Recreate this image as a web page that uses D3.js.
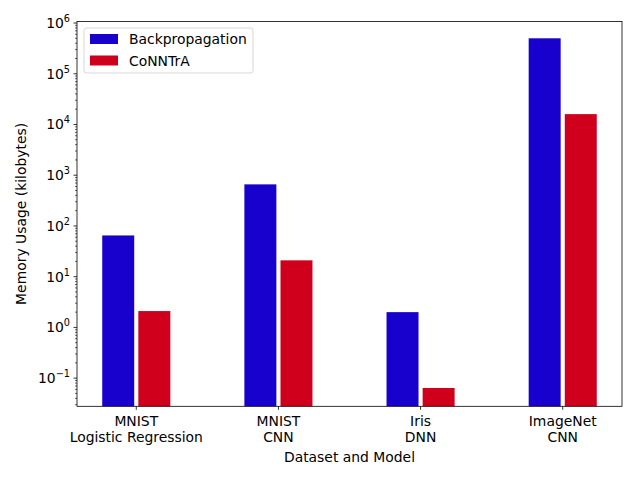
<!DOCTYPE html>
<html>
<head>
<meta charset="utf-8">
<script src="https://cdn.jsdelivr.net/npm/d3@7"></script>
<style>
  body { margin: 0; background: #fff; }
  text { font-family: "DejaVu Sans", sans-serif; }
</style>
</head>
<body>
<svg id="chart" width="640" height="480"></svg>
<script>
const categories = [['MNIST', 'Logistic Regression'], ['MNIST', 'CNN'], ['Iris', 'DNN'], ['ImageNet', 'CNN']];
const seriesNames = ['Backpropagation', 'CoNNTrA'];
const backprop = [65, 660, 2, 500000];
const conntra = [2.1, 21, 0.064, 16000];
const yTickExps = [-1, 0, 1, 2, 3, 4, 5, 6];
const colors = ['#1800cd', '#d0001c'];

const margin = {top: 21.5, left: 77, right: 18, bottom: 73.7};
const width = 640, height = 480;
const fontSize = 13.9;

const svg = d3.select('#chart');

const x = d3.scaleLinear().domain([-0.417, 3.417]).range([margin.left, width - margin.right]);
const y = d3.scaleLog().domain([Math.pow(10, -1.555), Math.pow(10, 6.03)]).range([height - margin.bottom, margin.top]);

const barWidth = 0.225, offset = 0.127;
const series = [backprop, conntra];

// bars
series.forEach((vals, s) => {
    svg.append('g')
        .selectAll('rect')
        .data(vals)
        .join('rect')
        .attr('x', (d, i) => x(i + (s === 0 ? -offset : offset) - barWidth / 2))
        .attr('width', x(barWidth) - x(0))
        .attr('y', d => y(d))
        .attr('height', d => y.range()[0] - y(d))
        .attr('fill', colors[s]);
});

// y axis: major and minor ticks
const yAxis = svg.append('g');
const minor = [];
for (let e = -2; e <= 6; e++) {
    for (let m = 2; m <= 9; m++) {
        const v = m * Math.pow(10, e);
        if (v >= y.domain()[0] && v <= y.domain()[1]) minor.push(v);
    }
}
yAxis.selectAll('line.minor')
    .data(minor)
    .join('line')
    .attr('x1', margin.left - 2).attr('x2', margin.left)
    .attr('y1', d => y(d)).attr('y2', d => y(d))
    .attr('stroke', '#000').attr('stroke-width', 0.6);
yAxis.selectAll('line.major')
    .data(yTickExps)
    .join('line')
    .attr('x1', margin.left - 3.5).attr('x2', margin.left)
    .attr('y1', d => y(Math.pow(10, d))).attr('y2', d => y(Math.pow(10, d)))
    .attr('stroke', '#000').attr('stroke-width', 0.8);
const yLab = yAxis.selectAll('text')
    .data(yTickExps)
    .join('text')
    .attr('x', margin.left - 7)
    .attr('y', d => y(Math.pow(10, d)) + 5)
    .attr('text-anchor', 'end')
    .attr('font-size', fontSize);
yLab.append('tspan').text('10');
yLab.append('tspan')
    .attr('dy', -6)
    .attr('font-size', fontSize * 0.7)
    .text(d => d < 0 ? '\u2212' + Math.abs(d) : d);

// x axis ticks and labels
const xAxis = svg.append('g');
xAxis.selectAll('line')
    .data(categories)
    .join('line')
    .attr('x1', (d, i) => x(i)).attr('x2', (d, i) => x(i))
    .attr('y1', y.range()[0]).attr('y2', y.range()[0] + 3.5)
    .attr('stroke', '#000').attr('stroke-width', 0.8);
const xLab = xAxis.selectAll('text')
    .data(categories)
    .join('text')
    .attr('text-anchor', 'middle')
    .attr('font-size', fontSize);
xLab.append('tspan').attr('x', (d, i) => x(i)).attr('y', 426).text(d => d[0]);
xLab.append('tspan').attr('x', (d, i) => x(i)).attr('y', 442).text(d => d[1]);

// axis titles
svg.append('text')
    .attr('x', (x.range()[0] + x.range()[1]) / 2)
    .attr('y', 462)
    .attr('text-anchor', 'middle')
    .attr('font-size', fontSize)
    .text('Dataset and Model');
svg.append('text')
    .attr('transform', `translate(26, ${(y.range()[0] + y.range()[1]) / 2}) rotate(-90)`)
    .attr('text-anchor', 'middle')
    .attr('font-size', fontSize)
    .text('Memory Usage (kilobytes)');

// frame
svg.append('rect')
    .attr('x', x.range()[0]).attr('y', y.range()[1])
    .attr('width', x.range()[1] - x.range()[0])
    .attr('height', y.range()[0] - y.range()[1])
    .attr('fill', 'none').attr('stroke', '#000').attr('stroke-width', 0.8);

// legend
const legend = svg.append('g').attr('transform', 'translate(84, 28)');
legend.append('rect')
    .attr('width', 169).attr('height', 45)
    .attr('rx', 2.5)
    .attr('fill', '#fff').attr('fill-opacity', 0.8)
    .attr('stroke', '#ccc').attr('stroke-width', 0.8);
const items = legend.selectAll('g')
    .data(seriesNames)
    .join('g')
    .attr('transform', (d, i) => `translate(6, ${6 + i * 21.5})`);
items.append('rect')
    .attr('width', 28).attr('height', 10)
    .attr('fill', (d, i) => colors[i]);
items.append('text')
    .attr('x', 39).attr('y', 10)
    .attr('font-size', fontSize)
    .text(d => d);
</script>
</body>
</html>
